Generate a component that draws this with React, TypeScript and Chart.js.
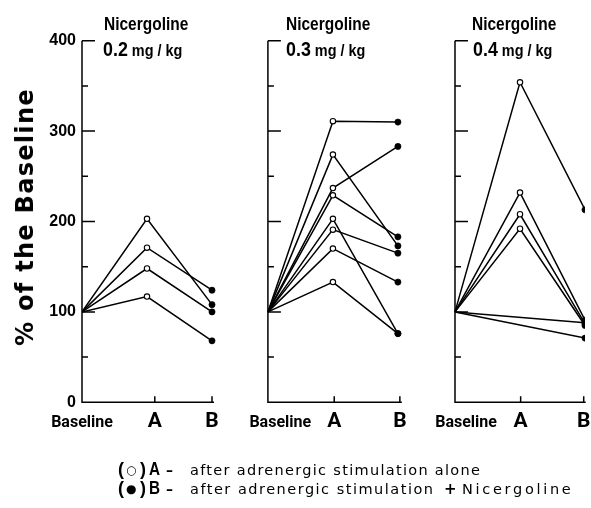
import React, { useEffect, useRef } from 'react';
import { Chart, registerables } from 'chart.js';

Chart.register(...registerables);

// ---------- data ----------
const categories = ['Baseline', 'A', 'B'];
const panelTitles = ['Nicergoline', 'Nicergoline', 'Nicergoline'];
const panelDoses = ['0.2', '0.3', '0.4'];
const doseUnit = 'mg / kg';
const baselineValue = 100;

// Nicergoline 0.2 mg/kg
const p1A = [203, 171, 148, 117];
const p1B = [108, 124, 100, 68];
// Nicergoline 0.3 mg/kg
const p2A = [311, 274, 237, 229, 203, 191, 170, 133];
const p2B = [310, 173, 283, 183, 76, 165, 133, 76];
// Nicergoline 0.4 mg/kg (two subjects without an A value)
const p3A: (number | null)[] = [354, 232, 208, 192, null, null];
const p3B = [213, 91, 87, 85, 88, 71];

const yTickValues = [0, 100, 200, 300, 400];
const yMinorTicks = [50, 150, 250, 350];
const yTitle = '% of the Baseline';
const legendA = 'after adrenergic stimulation alone';
const legendB = 'after adrenergic stimulation + Nicergoline';

// ---------- layout ----------
const W = 591;
const H = 508;
const panelOffsets = [0, 2.86, 5.738];
const xMax = 7.738;
const labelOffsets = [
  [0, 1.12, 2.0],
  [0.19, 1.02, 2.03],
  [0.17, 1.01, 1.98],
];
const SANS = "'Liberation Sans', Arial, sans-serif";
const LABEL = "Roboto, 'Liberation Sans', sans-serif";
const WIDE = "'DejaVu Sans', sans-serif";

const panels = [
  { A: p1A as (number | null)[], B: p1B },
  { A: p2A as (number | null)[], B: p2B },
  { A: p3A, B: p3B },
];

const xTickValues: number[] = [];
const xTickLabels: string[] = [];
panelOffsets.forEach((off, pi) => {
  categories.forEach((c, k) => {
    xTickValues.push(off + labelOffsets[pi][k]);
    xTickLabels.push(c);
  });
});

const panelAxesPlugin = {
  id: 'panelAxes',
  beforeDatasetsDraw(chart: any) {
    const { ctx } = chart;
    const x = chart.scales.x;
    const y = chart.scales.y;
    ctx.save();
    ctx.strokeStyle = '#000';
    ctx.lineWidth = 1.5;
    const yb = y.getPixelForValue(0);
    const yt = y.getPixelForValue(400);
    panelOffsets.forEach((off, pi) => {
      const x0 = x.getPixelForValue(off);
      const xr = x.getPixelForValue(off + labelOffsets[pi][2]) + 2;
      ctx.beginPath();
      ctx.moveTo(x0, yt);
      ctx.lineTo(x0, yb);
      ctx.lineTo(xr, yb);
      yTickValues.slice(1).forEach((v) => {
        const py = y.getPixelForValue(v);
        ctx.moveTo(x0, py);
        ctx.lineTo(x0 + 13, py);
      });
      yMinorTicks.forEach((v) => {
        const py = y.getPixelForValue(v);
        ctx.moveTo(x0, py);
        ctx.lineTo(x0 + 6, py);
      });
      [1, 2].forEach((k) => {
        const px = x.getPixelForValue(off + labelOffsets[pi][k]);
        ctx.moveTo(px, yb);
        ctx.lineTo(px, yb - 6);
      });
      ctx.stroke();
    });
    ctx.restore();
  },
};

const narrowText = (scale: number): React.CSSProperties => ({
  display: 'inline-block',
  transform: `scaleX(${scale})`,
  transformOrigin: 'left top',
  whiteSpace: 'nowrap',
});

export default function App() {
  const ref = useRef<HTMLCanvasElement | null>(null);

  useEffect(() => {
    if (!ref.current) return;
    const datasets: any[] = [];
    panels.forEach((p, pi) => {
      const off = panelOffsets[pi];
      p.A.forEach((a, i) => {
        datasets.push({
          data: [
            { x: off, y: baselineValue },
            { x: off + 1, y: a },
            { x: off + 2, y: p.B[i] },
          ],
          borderColor: '#000',
          borderWidth: 1.5,
          spanGaps: true,
          pointRadius: (c: any) => (c.dataIndex === 0 ? 0 : c.dataIndex === 1 ? 2.7 : 3.1),
          pointBackgroundColor: (c: any) => (c.dataIndex === 2 ? '#000' : '#fff'),
          pointBorderColor: '#000',
          pointBorderWidth: (c: any) => (c.dataIndex === 1 ? 1.1 : 0.6),
        });
      });
    });

    const chart = new Chart(ref.current, {
      type: 'line',
      data: { datasets },
      options: {
        responsive: false,
        animation: false,
        layout: { padding: { left: 0, right: 6, top: 40.7, bottom: 65.7 } },
        plugins: { legend: { display: false }, tooltip: { enabled: false } },
        scales: {
          x: {
            type: 'linear',
            min: 0,
            max: xMax,
            grid: { display: false, drawTicks: false },
            border: { display: false },
            afterBuildTicks: (s: any) => {
              s.ticks = xTickValues.map((v) => ({ value: v }));
            },
            afterFit: (s: any) => {
              s.height = 40;
              s.paddingLeft = 0;
              s.paddingRight = 0;
            },
            ticks: {
              autoSkip: false,
              maxRotation: 0,
              minRotation: 0,
              padding: 11,
              color: '#000',
              callback: (_v: any, i: number) => xTickLabels[i],
              font: (c: any) =>
                c.index % 3 === 0
                  ? { family: LABEL, size: 16, weight: 'bold', lineHeight: 1.25 }
                  : { family: LABEL, size: 21, weight: 'bold', lineHeight: 0.8 },
            },
          },
          y: {
            min: 0,
            max: 400,
            grid: { display: false, drawTicks: false },
            border: { display: false },
            afterFit: (s: any) => {
              s.width = 82;
            },
            afterBuildTicks: (s: any) => {
              s.ticks = yTickValues.map((v) => ({ value: v }));
            },
            ticks: {
              padding: 6,
              color: '#000',
              font: { family: SANS, size: 16, weight: 'bold' },
            },
          },
        },
      } as any,
      plugins: [panelAxesPlugin],
    });
    return () => chart.destroy();
  }, []);

  const titleLefts = [104, 286, 472];
  const doseLefts = [103, 286, 473];
  const [legendBMain, legendBTail] = legendB.split(' + ');

  const legendPrefix = (marker: string, letter: string) => (
    <>
      <span style={{ position: 'absolute', left: 118, top: -1, font: `bold 18px ${SANS}`, lineHeight: '18px' }}>(</span>
      <span style={{ position: 'absolute', left: 126, top: 2, font: `12px ${WIDE}`, lineHeight: '15px' }}>{marker}</span>
      <span style={{ position: 'absolute', left: 140, top: -1, font: `bold 18px ${SANS}`, lineHeight: '18px' }}>)</span>
      <span style={{ position: 'absolute', left: 149, top: -1, font: `bold 18px ${SANS}`, lineHeight: '18px' }}>
        <span style={narrowText(0.85)}>{letter}</span>
      </span>
      <span style={{ position: 'absolute', left: 166, top: 1, font: `bold 14px ${WIDE}`, lineHeight: '16px' }}>–</span>
    </>
  );

  const textStyle: React.CSSProperties = {
    position: 'absolute',
    top: 2,
    font: `14.5px ${WIDE}`,
    lineHeight: '15px',
    letterSpacing: '1.3px',
    whiteSpace: 'nowrap',
  };

  return (
    <div style={{ position: 'absolute', left: 0, top: 0, width: W, height: H, background: '#fff', color: '#000' }}>
      <canvas ref={ref} width={W} height={H} style={{ display: 'block', width: W, height: H }} />
      <div
        style={{
          position: 'absolute',
          left: 24.5,
          top: 216.5,
          transform: 'translate(-50%, -50%) rotate(-90deg)',
          font: `bold 24px ${WIDE}`,
          lineHeight: '24px',
          letterSpacing: '1.3px',
          whiteSpace: 'nowrap',
        }}
      >
        {yTitle}
      </div>
      {panelTitles.map((t, i) => (
        <div
          key={'t' + i}
          style={{
            position: 'absolute',
            left: titleLefts[i],
            top: 15,
            font: `bold 18px ${SANS}`,
            lineHeight: 1,
          }}
        >
          <span style={narrowText(0.86)}>{t}</span>
        </div>
      ))}
      {panelDoses.map((d, i) => (
        <div
          key={'d' + i}
          style={{
            position: 'absolute',
            left: doseLefts[i],
            top: 38,
            font: `bold 21px ${SANS}`,
            lineHeight: 1,
          }}
        >
          <span style={narrowText(0.85)}>
            {d}
            <span style={{ fontSize: 17 }}>{' ' + doseUnit}</span>
          </span>
        </div>
      ))}
      <div style={{ position: 'absolute', left: 0, top: 461, height: 20, width: W }}>
        {legendPrefix('○', 'A')}
        <span style={{ ...textStyle, left: 190 }}>{legendA}</span>
      </div>
      <div style={{ position: 'absolute', left: 0, top: 480, height: 20, width: W }}>
        {legendPrefix('●', 'B')}
        <span style={{ ...textStyle, left: 190, letterSpacing: '1.5px' }}>{legendBMain}</span>
        <span style={{ ...textStyle, left: 444, font: `bold 15px ${WIDE}` }}>+</span>
        <span style={{ ...textStyle, left: 462, letterSpacing: '2.7px' }}>{legendBTail}</span>
      </div>
    </div>
  );
}
